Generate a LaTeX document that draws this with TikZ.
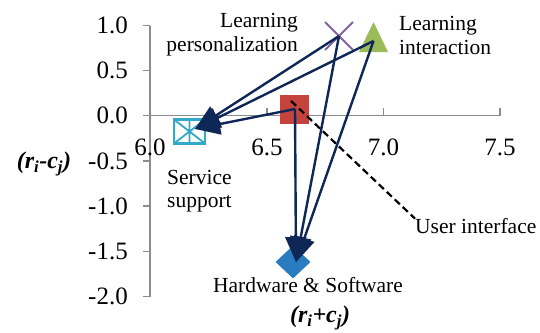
\documentclass[tikz,border=0pt]{standalone}
\usepackage{fontspec}
\setmainfont{Liberation Serif}
\usetikzlibrary{arrows.meta,shapes.geometric}
\definecolor{navy}{HTML}{0E2757}
\definecolor{axisgray}{HTML}{8C8C8C}
\definecolor{mkpurple}{HTML}{8064A2}
\definecolor{mkgreen}{HTML}{9BBB59}
\definecolor{mkred}{HTML}{C4433C}
\definecolor{mkblue}{HTML}{2B7BC0}
\definecolor{mkcyan}{HTML}{31A9C9}
\tikzset{
  axisline/.style={draw=axisgray, line width=1.3pt},
  ticklab/.style={font=\fontsize{25}{27}\selectfont, inner sep=0pt},
  lab/.style={font=\fontsize{21.5}{23.5}\selectfont, inner sep=0pt},
  axtitle/.style={font=\fontsize{24}{26}\selectfont\bfseries\itshape, inner sep=0pt},
  arr/.style={draw=navy, line width=2.4pt, -{Triangle[length=25pt,width=21pt]}},
  leader/.style={draw=black, line width=2.2pt, dash pattern=on 7pt off 4pt},
}
\begin{document}
\begin{tikzpicture}[x=1pt,y=-1pt]
\useasboundingbox (0,0) rectangle (540,332);
% axes
\draw[axisline] (150,25.5) -- (150,296.7);
\draw[axisline] (150,115.7) -- (500,115.7);
\foreach \yy/\lab in {25.5/1.0,70.7/0.5,115.7/0.0,160.9/-0.5,206.1/-1.0,251.3/-1.5,296.7/-2.0}{
  \draw[axisline] (143,\yy) -- (150,\yy);
  \node[ticklab, anchor=east] at (128,\yy) {\lab};
}
\foreach \xx/\lab in {150/6.0,267/6.5,383.5/7.0,500/7.5}{
  \draw[axisline] (\xx,107.7) -- (\xx,115.7);
  \node[ticklab] at (\xx,147) {\lab};
}
% markers
\node[draw=mkcyan, line width=2.2pt, rectangle, minimum width=31pt, minimum height=24pt, inner sep=0pt, outer sep=0pt] (ss) at (189.5,131.5) {};
\draw[mkcyan, line width=1.8pt] (ss.north) -- (ss.south) (ss.north west) -- (ss.south east) (ss.north east) -- (ss.south west);
\node[fill=mkred, rectangle, minimum size=29pt, inner sep=0pt] (ui) at (294.5,109) {};
\node[fill=mkblue, diamond, minimum width=35pt, minimum height=33pt, inner sep=0pt] (hs) at (293,262) {};
\coordinate (li) at (373.5,41);
\fill[mkgreen] (li) +(0,-19) -- +(-14.5,11) -- +(14.5,11) -- cycle;
\coordinate (lp) at (339,36);
\draw[mkpurple, line width=2pt] (lp) +(-14,-14) -- +(14,14) (lp) +(-14,14) -- +(14,-14);
% arrow targets
\coordinate (ssin) at (195,129);
\coordinate (hsin) at (296,262);
\coordinate (uistart) at (295,109);
% arrows
\draw[arr] (lp) -- (ssin);
\draw[arr] (li) -- (ssin);
\draw[arr] (uistart) -- (ssin);
\draw[arr] (lp) -- (hsin);
\draw[arr] (li) -- (hsin);
\draw[arr] (uistart) -- (hsin);
% labels
\node[lab, align=right, anchor=east] (lpl) at (298,34.5) {Learning\\personalization};
\node[lab, align=left, anchor=west] (lil) at (399,35.5) {Learning\\interaction};
\node[lab, align=left, anchor=west] (ssl) at (167,191) {Service\\support};
\node[lab] (hsl) at (308,285) {Hardware \& Software};
\node[lab, anchor=west] (uil) at (415,226.5) {User interface};
\coordinate (uitail) at (291,101);
\draw[leader] (uitail) -- (uil.north west);
% axis titles
\node[axtitle] (xt) at (320,318) {(r\textsubscript{i}+c\textsubscript{j})};
\node[axtitle] (yt) at (44,164) {(r\textsubscript{i}-c\textsubscript{j})};
\end{tikzpicture}
\end{document}
